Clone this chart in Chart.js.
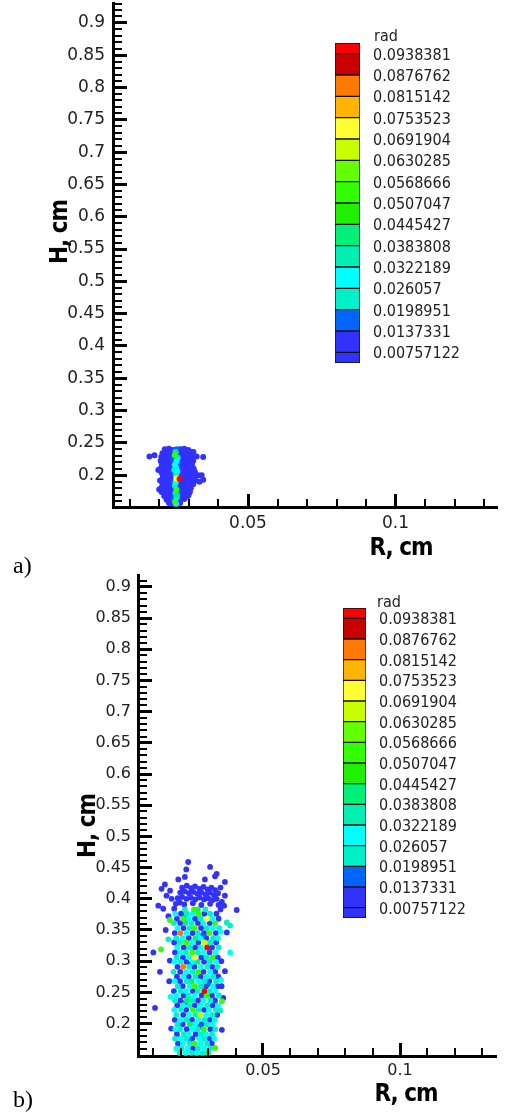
<!DOCTYPE html>
<html>
<head>
<meta charset="utf-8">
<script src="https://cdn.jsdelivr.net/npm/chart.js@4.4.1/dist/chart.umd.min.js"></script>
<style>
  body { margin: 0; background: #fff; width: 510px; height: 1113px; position: relative; overflow: hidden; }
  canvas { position: absolute; }
  .txt { position: absolute; white-space: nowrap; line-height: 1; }
  .axt { font: bold 24px 'Liberation Sans Narrow', 'DejaVu Sans Condensed', sans-serif; color: #000; letter-spacing: -1px; }
  .tag { font: 24px 'Liberation Serif', serif; color: #000; }
  .rad { font: 16px 'DejaVu Sans Condensed', 'DejaVu Sans', sans-serif; color: #222; }
</style>
</head>
<body>
<canvas id="chartA" width="510" height="540" style="left:0;top:0"></canvas>
<canvas id="legendA" width="170" height="340" style="left:335px;top:33px"></canvas>
<canvas id="chartB" width="510" height="520" style="left:0;top:570px"></canvas>
<canvas id="legendB" width="167" height="330" style="left:343px;top:598px"></canvas>

<div class="txt rad" style="left:374px;top:26px">rad</div>
<div class="txt rad" style="left:377px;top:592px">rad</div>
<div class="txt axt" style="left:401px;top:547px;transform:translate(-50%,-50%)">R, cm</div>
<div class="txt axt" style="left:406px;top:1093px;transform:translate(-50%,-50%)">R, cm</div>
<div class="txt axt" style="left:59px;top:232px;transform:translate(-50%,-50%) rotate(-90deg)">H, cm</div>
<div class="txt axt" style="left:87px;top:826px;transform:translate(-50%,-50%) rotate(-90deg)">H, cm</div>
<div class="txt tag" style="left:13px;top:552px">a)</div>
<div class="txt tag" style="left:13px;top:1086px">b)</div>

<script>
// axis ticks
const hTicks = [0.2, 0.25, 0.3, 0.35, 0.4, 0.45, 0.5, 0.55, 0.6, 0.65, 0.7, 0.75, 0.8, 0.85, 0.9];
const rTicks = [0.05, 0.1];

// contour levels of "rad" and the colour of each band (bottom -> top)
const radLevels = [0.00757122, 0.0137331, 0.0198951, 0.026057, 0.0322189, 0.0383808, 0.0445427,
  0.0507047, 0.0568666, 0.0630285, 0.0691904, 0.0753523, 0.0815142, 0.0876762, 0.0938381];
const radRange = [0.00449, 0.09692];
const bandColors = ['#3232ff', '#3232ff', '#0064ff', '#00f0c8', '#00ffff', '#00f0b4', '#00f078', '#1ef000',
  '#32ff00', '#64ff00', '#c8ff00', '#ffff32', '#ffb400', '#ff7800', '#c80000', '#ff0000'];

// ---- panel a) points [R, H] grouped by rad band ----
const aBlue = [
  [0.0218,0.240],[0.0232,0.241],[0.0246,0.239],[0.0270,0.240],[0.0284,0.241],[0.0298,0.239],
  [0.0210,0.234],[0.0224,0.235],[0.0238,0.233],[0.0274,0.234],[0.0288,0.235],[0.0302,0.233],[0.0312,0.236],
  [0.0206,0.228],[0.0219,0.229],[0.0233,0.227],[0.0247,0.228],[0.0266,0.228],[0.0280,0.229],[0.0294,0.227],[0.0308,0.228],
  [0.0204,0.222],[0.0217,0.223],[0.0231,0.221],[0.0245,0.222],[0.0272,0.222],[0.0286,0.223],[0.0300,0.221],[0.0314,0.222],
  [0.0208,0.216],[0.0222,0.217],[0.0236,0.215],[0.0268,0.216],[0.0282,0.217],[0.0296,0.215],[0.0310,0.216],
  [0.0203,0.210],[0.0216,0.211],[0.0230,0.209],[0.0244,0.210],[0.0270,0.210],[0.0284,0.211],[0.0298,0.209],[0.0316,0.210],
  [0.0207,0.204],[0.0221,0.205],[0.0235,0.203],[0.0266,0.204],[0.0280,0.205],[0.0294,0.203],[0.0308,0.204],[0.0320,0.205],
  [0.0212,0.198],[0.0226,0.199],[0.0240,0.197],[0.0276,0.198],[0.0290,0.199],[0.0304,0.197],[0.0318,0.198],
  [0.0206,0.192],[0.0219,0.193],[0.0233,0.191],[0.0247,0.192],[0.0282,0.192],[0.0296,0.193],[0.0310,0.191],[0.0322,0.192],
  [0.0210,0.186],[0.0224,0.187],[0.0238,0.185],[0.0270,0.186],[0.0286,0.187],[0.0300,0.185],[0.0314,0.186],
  [0.0205,0.180],[0.0218,0.181],[0.0232,0.179],[0.0246,0.180],[0.0266,0.180],[0.0280,0.181],[0.0294,0.179],[0.0306,0.180],
  [0.0212,0.174],[0.0226,0.175],[0.0240,0.173],[0.0272,0.174],[0.0286,0.175],[0.0300,0.173],
  [0.0216,0.168],[0.0230,0.169],[0.0244,0.167],[0.0268,0.168],[0.0282,0.169],[0.0294,0.167],
  [0.0224,0.162],[0.0238,0.163],[0.0270,0.162],[0.0284,0.163],
  [0.0232,0.157],[0.0246,0.156],[0.0270,0.157],
  [0.0166,0.229],[0.0183,0.231],[0.0196,0.208],[0.0202,0.192],[0.0199,0.178],[0.0207,0.174],[0.0211,0.200],
  [0.0315,0.236],[0.0326,0.229],[0.0348,0.228],[0.0332,0.200],[0.0343,0.200],[0.0348,0.193],[0.0335,0.190],
  [0.0303,0.174],[0.0298,0.169]
];
const aAzure = [[0.0246,0.225],[0.0262,0.212],[0.0250,0.203],[0.0248,0.190],[0.0264,0.176],[0.0247,0.163],[0.0258,0.240],[0.0260,0.218]];
const aAqua = [[0.0262,0.227],[0.0256,0.212],[0.0256,0.200],[0.0252,0.184],[0.0254,0.172],[0.0250,0.208]];
const aCyan = [[0.0258,0.222],[0.0260,0.206],[0.0255,0.189],[0.0258,0.166],[0.0256,0.156],[0.0252,0.216]];
const aSpring = [[0.0254,0.236],[0.0259,0.169]];
const aGreen = [[0.0252,0.231],[0.0257,0.178],[0.0253,0.159]];
const aYellow = [[0.0257,0.195]];
const aRed = [[0.0268,0.194]];

// ---- panel b) points [R, H] grouped by rad band ----
const bBlue = [
  // upper blue cap and outliers
  [0.0227,0.459],[0.0220,0.447],[0.0307,0.451],[0.0331,0.440],[0.0325,0.436],[0.0361,0.427],[0.0288,0.431],
  [0.0215,0.435],[0.0191,0.431],[0.0142,0.423],[0.0130,0.416],[0.0161,0.413],[0.0361,0.405],[0.0358,0.389],
  [0.0118,0.389],[0.0136,0.384],[0.0404,0.382],[0.0148,0.405],[0.0167,0.400],[0.0345,0.418],[0.0350,0.395],
  [0.0205,0.418],[0.0222,0.421],[0.0238,0.417],[0.0252,0.420],[0.0268,0.416],[0.0283,0.419],[0.0298,0.415],[0.0312,0.418],[0.0326,0.414],
  [0.0198,0.410],[0.0214,0.412],[0.0230,0.409],[0.0246,0.411],[0.0261,0.408],[0.0276,0.410],[0.0291,0.407],[0.0306,0.410],[0.0321,0.406],[0.0336,0.409],
  [0.0189,0.401],[0.0205,0.403],[0.0221,0.400],[0.0237,0.402],[0.0253,0.399],[0.0269,0.402],[0.0285,0.399],[0.0300,0.401],[0.0316,0.398],[0.0331,0.400],
  [0.0182,0.392],[0.0197,0.394],[0.0213,0.391],[0.0244,0.393],[0.0275,0.390],[0.0307,0.392],[0.0338,0.390],[0.0176,0.384],[0.0345,0.383],
  // mixed column
  [0.0201,0.376],[0.0286,0.376],[0.0330,0.376],[0.0186,0.368],[0.0252,0.368],[0.0338,0.368],
  [0.0198,0.361],[0.0263,0.361],[0.0306,0.361],[0.0210,0.353],[0.0274,0.353],
  [0.0178,0.345],[0.0243,0.345],[0.0285,0.345],[0.0328,0.345],[0.0229,0.337],[0.0293,0.337],
  [0.0176,0.330],[0.0264,0.330],[0.0329,0.330],[0.0211,0.322],[0.0252,0.322],[0.0314,0.322],
  [0.0179,0.314],[0.0305,0.314],[0.0208,0.306],[0.0275,0.306],[0.0335,0.306],[0.0221,0.299],[0.0285,0.299],
  [0.0188,0.291],[0.0250,0.291],[0.0315,0.291],[0.0198,0.283],[0.0283,0.283],[0.0326,0.283],
  [0.0186,0.275],[0.0229,0.275],[0.0272,0.275],[0.0337,0.275],[0.0197,0.268],[0.0304,0.268],
  [0.0207,0.260],[0.0292,0.260],[0.0335,0.260],[0.0175,0.252],[0.0244,0.252],
  [0.0210,0.245],[0.0276,0.245],[0.0314,0.245],[0.0198,0.237],[0.0263,0.237],[0.0325,0.237],
  [0.0187,0.229],[0.0250,0.229],[0.0316,0.229],[0.0220,0.222],[0.0285,0.222],[0.0209,0.214],[0.0333,0.214],
  [0.0178,0.206],[0.0241,0.206],[0.0306,0.206],[0.0207,0.199],[0.0275,0.199],[0.0222,0.191],[0.0308,0.191],
  [0.0186,0.183],[0.0254,0.183],[0.0242,0.176],[0.0305,0.176],[0.0190,0.168],[0.0313,0.168],[0.0245,0.160],
  // side outliers
  [0.0100,0.314],[0.0124,0.283],[0.0106,0.225],[0.0361,0.284],[0.0355,0.241],[0.0368,0.346],[0.0349,0.260],
  [0.0158,0.268],[0.0160,0.301],[0.0165,0.192],[0.0348,0.300],[0.0350,0.190],[0.0145,0.350],[0.0155,0.372]
];
const bAzure = [[0.0213,0.372],[0.0280,0.341],[0.0236,0.295],[0.0300,0.264],[0.0215,0.233],[0.0270,0.195],[0.0232,0.172]];
const bAqua = [
  [0.0215,0.383],[0.0290,0.383],[0.0222,0.376],[0.0307,0.376],[0.0272,0.368],[0.0175,0.361],[0.0240,0.361],
  [0.0231,0.353],[0.0295,0.353],[0.0340,0.353],[0.0262,0.345],[0.0184,0.337],[0.0318,0.337],
  [0.0196,0.330],[0.0307,0.330],[0.0232,0.322],[0.0338,0.322],[0.0219,0.314],[0.0263,0.314],
  [0.0185,0.306],[0.0294,0.306],[0.0200,0.299],[0.0306,0.299],[0.0231,0.291],[0.0297,0.291],[0.0334,0.291],
  [0.0174,0.283],[0.0243,0.283],[0.0253,0.275],[0.0318,0.275],[0.0221,0.268],[0.0287,0.268],[0.0329,0.268],
  [0.0189,0.260],[0.0273,0.260],[0.0200,0.252],[0.0262,0.252],[0.0306,0.252],[0.0228,0.245],[0.0339,0.245],
  [0.0179,0.237],[0.0242,0.237],[0.0308,0.237],[0.0231,0.229],[0.0296,0.229],
  [0.0201,0.222],[0.0265,0.222],[0.0328,0.222],[0.0184,0.214],[0.0253,0.214],[0.0315,0.214],
  [0.0221,0.206],[0.0287,0.206],[0.0188,0.199],[0.0295,0.199],[0.0198,0.191],[0.0262,0.191],[0.0326,0.191],
  [0.0211,0.183],[0.0273,0.183],[0.0314,0.183],[0.0179,0.176],[0.0220,0.176],[0.0285,0.176],
  [0.0232,0.168],[0.0296,0.168],[0.0203,0.160],[0.0263,0.160],[0.0307,0.160],
  [0.0196,0.153],[0.0239,0.153],[0.0280,0.153],
  [0.0380,0.357],[0.0368,0.362],[0.0155,0.335],[0.0344,0.221]
];
const bCyan = [
  [0.0180,0.376],[0.0243,0.376],[0.0229,0.368],[0.0315,0.368],[0.0283,0.361],[0.0188,0.353],[0.0317,0.353],
  [0.0221,0.345],[0.0207,0.337],[0.0271,0.337],[0.0336,0.337],[0.0241,0.330],[0.0187,0.322],[0.0273,0.322],
  [0.0199,0.314],[0.0284,0.314],[0.0327,0.314],[0.0230,0.306],[0.0177,0.299],[0.0244,0.299],[0.0328,0.299],
  [0.0274,0.291],[0.0220,0.283],[0.0307,0.283],[0.0210,0.275],[0.0295,0.275],[0.0178,0.268],[0.0265,0.268],
  [0.0232,0.260],[0.0317,0.260],[0.0219,0.252],[0.0327,0.252],[0.0185,0.245],[0.0252,0.245],[0.0283,0.237],
  [0.0208,0.229],[0.0272,0.229],[0.0336,0.229],[0.0176,0.222],[0.0303,0.222],[0.0230,0.214],[0.0293,0.214],
  [0.0199,0.206],[0.0264,0.206],[0.0324,0.206],[0.0251,0.199],[0.0317,0.199],[0.0180,0.191],[0.0244,0.191],
  [0.0229,0.183],[0.0292,0.183],[0.0200,0.176],[0.0266,0.176],[0.0322,0.176],[0.0208,0.168],[0.0274,0.168],
  [0.0184,0.160],[0.0224,0.160],[0.0286,0.160],[0.0218,0.153],[0.0258,0.153],
  [0.0380,0.314],[0.0163,0.243],[0.0346,0.347],[0.0347,0.270]
];
const bSpring = [[0.0262,0.383],[0.0218,0.361],[0.0253,0.337],[0.0262,0.299],[0.0240,0.268],[0.0222,0.237],[0.0233,0.199],[0.0300,0.153]];
const bGreen = [
  [0.0248,0.383],[0.0265,0.376],[0.0209,0.368],[0.0326,0.361],[0.0250,0.353],[0.0304,0.345],[0.0220,0.330],
  [0.0242,0.314],[0.0316,0.306],[0.0264,0.283],[0.0251,0.260],[0.0294,0.245],[0.0243,0.222],[0.0284,0.191],
  [0.0250,0.168],[0.0128,0.319],[0.0350,0.236],[0.0325,0.161],[0.0160,0.366]
];
const bLime = [[0.0286,0.330],[0.0271,0.214]];
const bYellow = [[0.0296,0.368],[0.0251,0.306]];
const bOrange = [[0.0199,0.345],[0.0209,0.291]];
const bRed = [[0.0296,0.322],[0.0286,0.252]];

// minor ticks every 0.01 on both axes, drawn inward like the majors
const minorTicks = {
  id: 'minorTicks',
  afterDraw(chart) {
    const { ctx, chartArea: a, scales: { x, y } } = chart;
    ctx.save();
    ctx.strokeStyle = '#000';
    ctx.lineWidth = 2;
    ctx.beginPath();
    for (let k = Math.ceil(y.min * 100 - 1e-9); k <= Math.floor(y.max * 100 + 1e-9); k++) {
      if (k % 5 === 0) continue;
      const py = Math.round(y.getPixelForValue(k / 100));
      ctx.moveTo(a.left, py);
      ctx.lineTo(a.left + 9, py);
    }
    for (let k = Math.ceil(x.min * 100 - 1e-9); k <= Math.floor(x.max * 100 + 1e-9); k++) {
      if (k % 5 === 0) continue;
      const px = Math.round(x.getPixelForValue(k / 100));
      ctx.moveTo(px, a.bottom);
      ctx.lineTo(px, a.bottom - 8);
    }
    ctx.stroke();
    ctx.restore();
  }
};

function pointSets(groups, radius) {
  return groups.map(([pts, band]) => ({
    data: pts.map(([x, y]) => ({ x, y })),
    backgroundColor: bandColors[band],
    borderWidth: 0,
    pointRadius: radius,
    pointHoverRadius: radius
  }));
}

function scatterPanel(id, groups, cfg) {
  const tickFont = { family: "'DejaVu Sans', sans-serif", size: cfg.fontSize };
  new Chart(document.getElementById(id), {
    type: 'scatter',
    data: { datasets: pointSets(groups, cfg.radius) },
    options: {
      responsive: false,
      animation: false,
      layout: { padding: { top: cfg.top, right: cfg.right, left: 0, bottom: 0 } },
      plugins: { legend: { display: false }, tooltip: { enabled: false } },
      scales: {
        x: {
          type: 'linear', position: 'bottom', min: cfg.xMin, max: cfg.xMax,
          afterBuildTicks: s => { s.ticks = rTicks.map(v => ({ value: v })); },
          afterFit: s => { s.height = cfg.xHeight; s.paddingLeft = 0; s.paddingRight = 0; },
          grid: { drawOnChartArea: false, drawTicks: true, tickLength: -13, tickWidth: 3, tickColor: '#000' },
          border: { display: true, color: '#000', width: 3 },
          ticks: { font: tickFont, color: '#222', padding: cfg.xPad, maxRotation: 0, autoSkip: false, callback: v => String(v) }
        },
        y: {
          type: 'linear', position: 'left', min: cfg.yMin, max: cfg.yMax,
          afterBuildTicks: s => { s.ticks = hTicks.map(v => ({ value: v })); },
          afterFit: s => { s.width = cfg.yWidth; s.paddingTop = 0; s.paddingBottom = 0; },
          grid: { drawOnChartArea: false, drawTicks: true, tickLength: -14, tickWidth: 3, tickColor: '#000' },
          border: { display: true, color: '#000', width: 3 },
          ticks: { font: tickFont, color: '#222', padding: cfg.yPad, autoSkip: false, callback: v => String(v) }
        }
      }
    },
    plugins: [minorTicks]
  });
}

function colourBar(id, axisWidth) {
  const edges = [radRange[0], ...radLevels, radRange[1]];
  new Chart(document.getElementById(id), {
    type: 'bar',
    data: {
      labels: ['rad'],
      datasets: bandColors.map((c, i) => ({
        data: [[edges[i], edges[i + 1]]],
        backgroundColor: c,
        borderColor: '#111',
        borderWidth: 1,
        borderSkipped: false,
        barPercentage: 1,
        categoryPercentage: 1,
        grouped: false
      }))
    },
    options: {
      responsive: false,
      animation: false,
      layout: { padding: { top: 10, bottom: 10, left: 0, right: 0 } },
      plugins: { legend: { display: false }, tooltip: { enabled: false } },
      scales: {
        x: { display: false },
        y: {
          position: 'right', min: radRange[0], max: radRange[1],
          afterBuildTicks: s => { s.ticks = radLevels.map(v => ({ value: v })); },
          afterFit: s => { s.width = axisWidth; s.paddingTop = 0; s.paddingBottom = 0; },
          grid: { display: false, drawTicks: false },
          border: { display: false },
          ticks: {
            padding: 13, autoSkip: false, labelOffset: 2, color: '#222',
            font: { family: "'DejaVu Sans Condensed', 'DejaVu Sans', sans-serif", size: 16 },
            callback: v => String(v)
          }
        }
      }
    }
  });
}

scatterPanel('chartA',
  [[aRed, 15], [aYellow, 11], [aGreen, 8], [aSpring, 6], [aCyan, 4], [aAqua, 3], [aAzure, 2], [aBlue, 1]],
  { xMin: 0.00424, xMax: 0.1344, yMin: 0.1508, yMax: 0.9308, top: 0, right: 13,
    xHeight: 33, yWidth: 113, xPad: 19, yPad: 22, radius: 3, fontSize: 17 });

scatterPanel('chartB',
  [[bRed, 15], [bOrange, 13], [bYellow, 11], [bLime, 10], [bGreen, 8], [bSpring, 6], [bCyan, 4], [bAqua, 3], [bAzure, 2], [bBlue, 1]],
  { xMin: 0.0044, xMax: 0.135, yMin: 0.148, yMax: 0.919, top: 5, right: 14,
    xHeight: 34, yWidth: 138, xPad: 18, yPad: 21, radius: 2.9, fontSize: 16 });

colourBar('legendA', 145);
colourBar('legendB', 144);
</script>
</body>
</html>
